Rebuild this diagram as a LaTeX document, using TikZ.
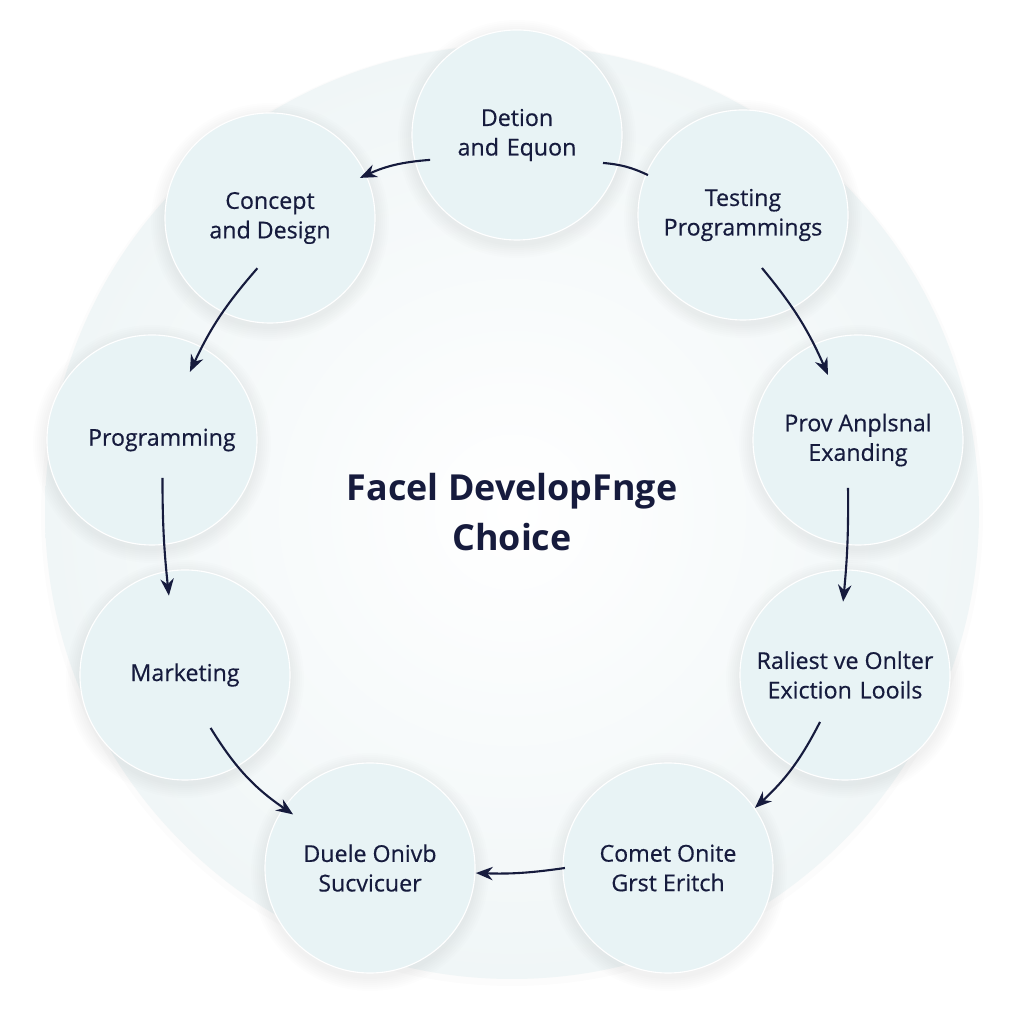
\documentclass[tikz,border=0pt]{standalone}
\usepackage{fontspec}
\setmainfont{Open Sans}
\newfontfamily\medfont{Open Sans}[FakeBold=0.5]
\usetikzlibrary{arrows.meta,calc,backgrounds}
\definecolor{ink}{HTML}{161B3D}
\definecolor{nodefill}{HTML}{E8F3F5}
\definecolor{ringfill}{HTML}{F0F6F7}
\tikzset{
  stage/.style={circle, minimum size=5.25cm, inner sep=0pt, fill=nodefill, draw=white, line width=0.8pt,
    align=center, text=ink, font=\medfont\fontsize{16.5}{21}\selectfont},
  flow/.style={draw=ink, line width=1.5pt, -{Stealth[length=12pt,width=9.5pt]}},
  plainflow/.style={draw=ink, line width=1.5pt},
}
\begin{document}
\begin{tikzpicture}[x=0.025cm,y=0.025cm]
\useasboundingbox (0,0) rectangle (1024,1024);
% stages
\node[stage] (det) at (517,889) {Detion\\and\,\,Equon};
\node[stage] (test) at (743,809) {Testing\\Programmings};
\node[stage] (prov) at (858,584) {Prov Anplsnal\\Exanding};
\node[stage] (rel) at (845,349) {Raliest ve Onlter\\Exiction\,\,Looils};
\node[stage] (comet) at (668,156) {Comet Onite\\Grst Eritch};
\node[stage] (duele) at (370,156) {Duele Onivb\\Sucvicuer};
\node[stage] (mark) at (185,349) {Marketing};
\node[stage] (prog) at (152,584) {\hspace*{14pt}Programming};
\node[stage] (concept) at (270,806) {Concept\\and Design};
\node[text=ink, align=center, font=\bfseries\fontsize{25.5}{36}\selectfont] (title) at (512,512) {Facel DevelopFnge\\Choice};
% background disk and shadows
\begin{pgfonlayer}{background}
  \fill[white] (0,0) rectangle (1024,1024);
  \fill[black, opacity=0.012] (512,509) circle (471);
  \shade[inner color=white, outer color=ringfill] (512,512) circle (467);
  \foreach \n in {det,test,prov,rel,comet,duele,mark,prog,concept}{
    \foreach \k in {2,4,...,14}{
      \fill[black, opacity=0.009] ([yshift=-0.1cm]\n.center) circle (105+\k);
    }
  }
\end{pgfonlayer}
% connectors
\draw[flow] ($(det)!0.347!-2.6:(concept)$) to[bend right=10] ($(det)!0.625!-3.3:(concept)$);
\draw[flow] ($(concept)!0.206!13.9:(prog)$) to[bend right=8] ($(concept)!0.69!0.5:(prog)$);
\draw[flow] ($(prog)!0.166!7.4:(mark)$) to[bend right=3] ($(prog)!0.66!-1.8:(mark)$);
\draw[flow] ($(mark)!0.22!-18:(duele)$) to[bend right=12] ($(mark)!0.66!-6:(duele)$);
\draw[flow] ($(comet)!0.346!0:(duele)$) to[bend left=5] ($(comet)!0.645!1.5:(duele)$);
\draw[flow] ($(rel)!0.203!14.5:(comet)$) to[bend left=10] ($(rel)!0.613!8.4:(comet)$);
\draw[flow] ($(prov)!0.208!-8.6:(rel)$) to[bend left=3] ($(prov)!0.69!-2.1:(rel)$);
\draw[flow] ($(test)!0.223!-7.4:(prov)$) to[bend left=8] ($(test)!0.717!0.9:(prov)$);
\draw[plainflow] ($(test)!0.43!-3.3:(det)$) to[bend right=10] ($(test)!0.623!-0.9:(det)$);
\end{tikzpicture}
\end{document}
